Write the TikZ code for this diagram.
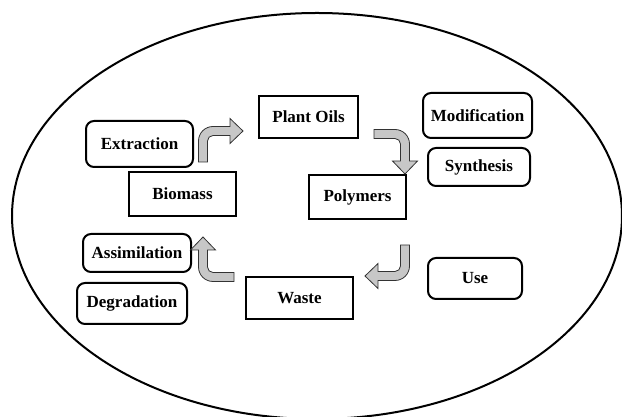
\documentclass[tikz,border=0pt]{standalone}
\usepackage{fontspec}
\setmainfont{Liberation Serif}

\tikzset{
  box/.style={draw, line width=2pt, inner sep=0pt, font=\bfseries\fontsize{17}{19}\selectfont},
  rbox/.style={box, rounded corners=8pt},
  bendarrow/.pic={
    \filldraw[fill=black!22, draw=black!80, line width=0.8pt]
      (-4.5pt,0pt) -- (-4.5pt,21pt) arc[start angle=180, end angle=90, radius=14.5pt]
      -- (27pt,35.5pt) -- (27pt,43.5pt) -- (40pt,31pt) -- (27pt,18.5pt) -- (27pt,26.5pt) -- (10pt,26.5pt)
      arc[start angle=90, end angle=180, radius=5.5pt] -- (4.5pt,0pt) -- cycle;
  }
}

\begin{document}
\begin{tikzpicture}[x=1pt, y=1pt]
\useasboundingbox (0,0) rectangle (622,417);
\draw[line width=2pt] (317,201) ellipse[x radius=305pt, y radius=203pt];

\node[box, minimum width=99pt, minimum height=42pt] (oils) at (308.5,300) {Plant Oils};
\node[box, minimum width=107pt, minimum height=44pt] (bio) at (182.5,223) {Biomass};
\node[box, minimum width=97pt, minimum height=44pt] (poly) at (357.5,220) {Polymers};
\node[box, minimum width=107pt, minimum height=42pt] (waste) at (299.5,119) {Waste};

\node[rbox, minimum width=107pt, minimum height=46pt] (extr) at (139.5,273) {Extraction};
\node[rbox, minimum width=109pt, minimum height=45pt] (modif) at (477.5,301.5) {Modification};
\node[rbox, minimum width=102pt, minimum height=38pt] (synth) at (479,250) {Synthesis};
\node[rbox, minimum width=108pt, minimum height=38pt] (assim) at (137,164) {Assimilation};
\node[rbox, minimum width=110pt, minimum height=41pt] (degr) at (132,113.5) {Degradation};
\node[rbox, minimum width=94pt, minimum height=41pt] (use) at (475,138.5) {Use};

\coordinate (t1) at (203,255);
\coordinate (t2) at (374,283);
\coordinate (t3) at (405,172);
\coordinate (t4) at (234,140);

\pic at (t1) {bendarrow};
\pic[rotate=-90] at (t2) {bendarrow};
\pic[rotate=180] at (t3) {bendarrow};
\pic[rotate=90] at (t4) {bendarrow};

\end{tikzpicture}
\end{document}
